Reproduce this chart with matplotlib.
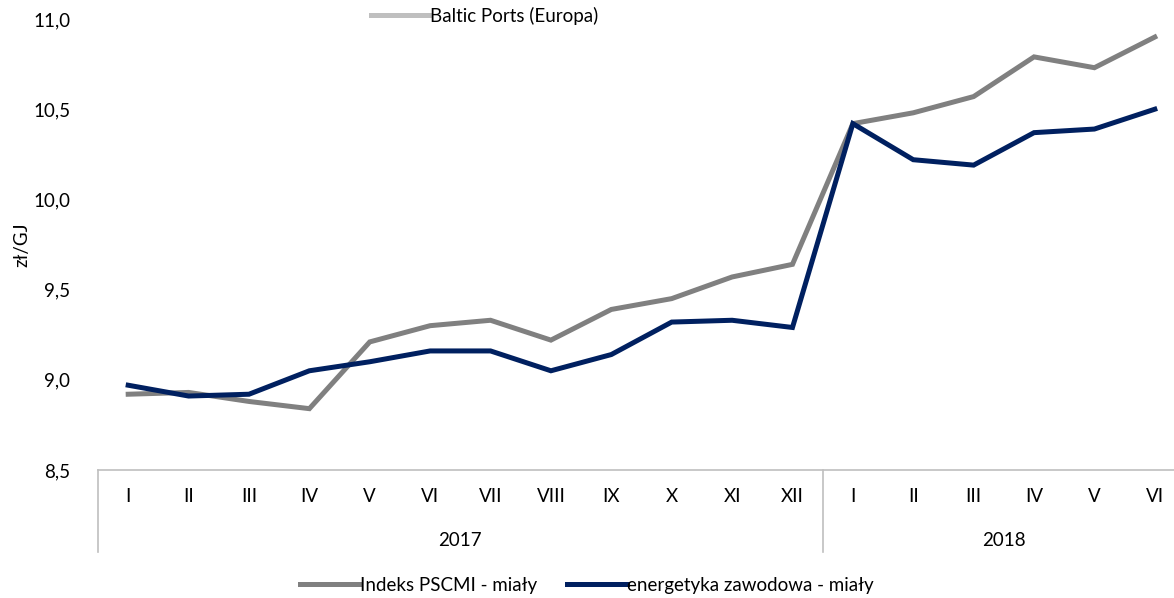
import matplotlib
matplotlib.use("Agg")
import matplotlib.pyplot as plt
from matplotlib.lines import Line2D

plt.rcParams['font.family'] = ['Lato', 'DejaVu Sans']

months = ["I", "II", "III", "IV", "V", "VI", "VII", "VIII", "IX", "X", "XI", "XII",
          "I", "II", "III", "IV", "V", "VI"]
years = ["2017", "2018"]
year_counts = [12, 6]

pscmi = [8.92, 8.93, 8.88, 8.84, 9.21, 9.30, 9.33, 9.22, 9.39, 9.45, 9.57, 9.64,
         10.42, 10.48, 10.57, 10.79, 10.73, 10.90]
energetyka = [8.97, 8.91, 8.92, 9.05, 9.10, 9.16, 9.16, 9.05, 9.14, 9.32, 9.33, 9.29,
              10.42, 10.22, 10.19, 10.37, 10.39, 10.50]

series_names = ["Indeks PSCMI - miały", "energetyka zawodowa - miały"]
top_legend_names = ["Richards Bay (RPA)", "Baltic Ports (Europa)"]

C_GREY = "#808080"
C_NAVY = "#002060"
C_LIGHT = "#BFBFBF"
C_MID = "#A6A6A6"
C_AXIS = "#BFBFBF"
FS = 13.5

W, H = 1174, 598
fig = plt.figure(figsize=(W / 100, H / 100), dpi=100)
ax = fig.add_axes([98 / W, 1 - 470 / H, (1185 - 98) / W, (470 - 19) / H])

x = list(range(len(months)))
l1, = ax.plot(x, pscmi, color=C_GREY, lw=3.6, solid_joinstyle='miter', label=series_names[0])
l2, = ax.plot(x, energetyka, color=C_NAVY, lw=3.6, solid_joinstyle='miter', label=series_names[1])

ax.set_xlim(-0.5, len(months) - 0.5)
ax.set_ylim(8.5, 11.0)
yt = [8.5, 9.0, 9.5, 10.0, 10.5, 11.0]
ax.set_yticks(yt)
ax.set_yticklabels([f"{v:.1f}".replace(".", ",") for v in yt])
ax.tick_params(axis='y', length=0, pad=20, labelsize=FS, colors="#000000")
ax.set_xticks([])
for s in ["top", "right", "left"]:
    ax.spines[s].set_visible(False)
ax.spines["bottom"].set_color(C_AXIS)
ax.spines["bottom"].set_linewidth(1.2)

ax.set_ylabel("zł/GJ", fontsize=FS)
ax.yaxis.set_label_coords(-(98 - 30) / (1185 - 98), 0.5)

trans = ax.get_xaxis_transform()
for i, m in enumerate(months):
    ax.text(i, -27 / 451, m, transform=trans, ha='center', va='center', fontsize=FS)
start = 0
bounds = [-0.5]
for yname, cnt in zip(years, year_counts):
    center = start + (cnt - 1) / 2
    ax.text(center, -71 / 451, yname, transform=trans, ha='center', va='center', fontsize=FS)
    start += cnt
    bounds.append(start - 0.5)
for b in bounds:
    ax.plot([b, b], [0, -82 / 451], transform=trans, color=C_AXIS, lw=1.2, clip_on=False)

leg = fig.legend(handles=[l1, l2], loc='center', bbox_to_anchor=(0.5, 1 - 585 / H),
                 ncol=2, frameon=False, fontsize=FS, handlelength=3.2,
                 handletextpad=0.0, columnspacing=1.6)

h_top = [Line2D([], [], color=C_MID, lw=3.6), Line2D([], [], color=C_LIGHT, lw=3.6)]
leg2 = fig.legend(handles=h_top, labels=top_legend_names, loc='lower left',
                  bbox_to_anchor=(362 / W, 1 - 34 / H), ncol=1, frameon=False, fontsize=FS,
                  handlelength=3.1, handletextpad=0.05, borderpad=0, labelspacing=0.4)

fig.savefig("out.png", dpi=100)
